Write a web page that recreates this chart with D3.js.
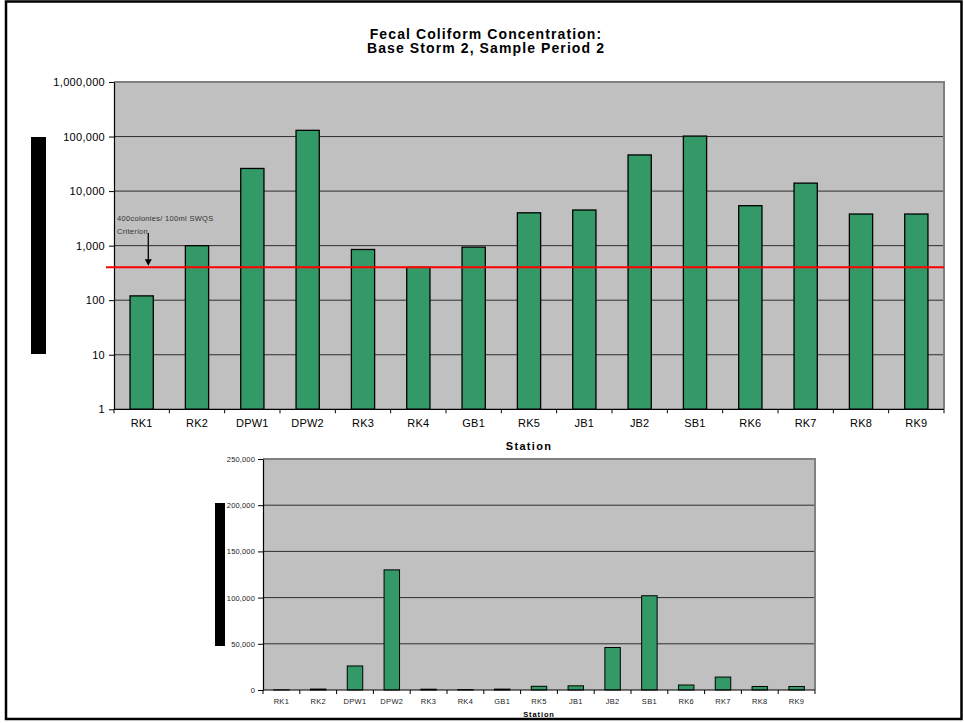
<!DOCTYPE html>
<html>
<head>
<meta charset="utf-8">
<script src="https://cdn.jsdelivr.net/npm/d3@7/dist/d3.min.js"></script>
<style>
  html, body { margin: 0; padding: 0; background: #fff; }
  svg { display: block; font-family: Arial, "Liberation Sans", sans-serif; }
</style>
</head>
<body>
<svg id="chart" width="964" height="723"></svg>
<script>
// Fecal coliform counts (colonies / 100 ml) by sampling station
const stations = ["RK1", "RK2", "DPW1", "DPW2", "RK3", "RK4", "GB1", "RK5", "JB1", "JB2", "SB1", "RK6", "RK7", "RK8", "RK9"];
const counts = [120, 1000, 26000, 130000, 850, 400, 940, 4000, 4500, 46000, 102000, 5400, 14000, 3800, 3800];
const criterion = 400;
const logTicks = [1, 10, 100, 1000, 10000, 100000, 1000000];
const linearTicks = [0, 50000, 100000, 150000, 200000, 250000];
const titleLines = ["Fecal Coliform Concentration:", "Base Storm 2, Sample Period 2"];
const xTitle = "Station";
const criterionNote = ["400colonies/ 100ml SWQS", "Criterion"];

const svg = d3.select("#chart");
const fmt = d3.format(",");

// page frame
svg.append("rect").attr("x", 6).attr("y", 1.5).attr("width", 955.5).attr("height", 717.5)
  .attr("fill", "none").attr("stroke", "#000").attr("stroke-width", 2.5);

// title
svg.append("g").selectAll("text").data(titleLines).join("text")
  .attr("x", 486).attr("y", (d, i) => 38.5 + i * 14.8)
  .attr("text-anchor", "middle").attr("font-size", 14).attr("font-weight", "bold")
  .attr("letter-spacing", 1.1).attr("fill", "#000").text(d => d);

function drawPanel(opt) {
  const g = svg.append("g");
  const [x0, x1] = opt.xRange;
  const x = d3.scaleBand().domain(stations).range([x0, x1]).paddingInner(0.58).paddingOuter(0.29);
  const y = opt.y;
  const [yBottom, yTop] = y.range();

  // plot background
  g.append("rect").attr("x", x0).attr("y", yTop).attr("width", x1 - x0).attr("height", yBottom - yTop)
    .attr("fill", "#c0c0c0");

  // horizontal gridlines
  g.append("g").selectAll("line").data(opt.ticks.filter(t => y(t) < yBottom - 1 && y(t) > yTop + 1)).join("line")
    .attr("x1", x0).attr("x2", x1).attr("y1", d => y(d)).attr("y2", d => y(d))
    .attr("stroke", "#2e2e2e").attr("stroke-width", 1);

  // top and right frame of plot area
  g.append("path").attr("d", `M${x0},${yTop}H${x1}V${yBottom}`)
    .attr("fill", "none").attr("stroke", "#808080").attr("stroke-width", 2);

  // bars
  g.append("g").selectAll("rect").data(stations).join("rect")
    .attr("x", d => x(d)).attr("width", x.bandwidth())
    .attr("y", (d, i) => y(counts[i])).attr("height", (d, i) => yBottom - y(counts[i]))
    .attr("fill", "#339966").attr("stroke", "#000").attr("stroke-width", opt.barStroke);

  // y axis
  const ya = g.append("g").attr("transform", `translate(${x0},0)`)
    .call(d3.axisLeft(y).tickValues(opt.ticks).tickFormat(fmt).tickSize(5).tickPadding(opt.tickPad).tickSizeOuter(0));
  ya.select(".domain").attr("stroke", "#000").attr("stroke-width", 1.2);
  ya.selectAll(".tick line").attr("stroke", "#000");
  ya.selectAll("text").attr("font-size", opt.yFont).attr("letter-spacing", opt.yLs)
    .attr("fill", opt.labelColor).attr("font-family", "Arial, 'Liberation Sans', sans-serif");

  // x axis line and category boundary ticks
  const step = x.step();
  g.append("line").attr("x1", x0).attr("x2", x1).attr("y1", yBottom).attr("y2", yBottom)
    .attr("stroke", "#000").attr("stroke-width", 1.2);
  g.append("g").selectAll("line").data(d3.range(stations.length + 1)).join("line")
    .attr("x1", i => x0 + i * step).attr("x2", i => x0 + i * step)
    .attr("y1", yBottom).attr("y2", yBottom + 4).attr("stroke", "#000");

  // category labels
  g.append("g").selectAll("text").data(stations).join("text")
    .attr("x", d => x(d) + x.bandwidth() / 2).attr("y", opt.xLabelY)
    .attr("text-anchor", "middle").attr("font-size", opt.xFont).attr("letter-spacing", opt.xLs)
    .attr("fill", opt.labelColor).text(d => d);

  // axis title
  g.append("text").attr("x", (x0 + x1) / 2).attr("y", opt.xTitleY)
    .attr("text-anchor", "middle").attr("font-size", opt.titleFont).attr("font-weight", "bold")
    .attr("letter-spacing", opt.titleLs).attr("fill", "#000").text(xTitle);

  // concealed axis title block
  g.append("rect").attr("x", opt.block[0]).attr("y", opt.block[1])
    .attr("width", opt.block[2]).attr("height", opt.block[3]).attr("fill", "#000");

  return { g, x, y };
}

// logarithmic panel
const logPanel = drawPanel({
  xRange: [114, 944],
  y: d3.scaleLog().domain([1, 1000000]).range([409.3, 82]),
  ticks: logTicks,
  barStroke: 1.3,
  tickPad: 4, yFont: 11, yLs: 0.3,
  xLabelY: 427, xFont: 11, xLs: 0.2,
  xTitleY: 450, titleFont: 11, titleLs: 1.3,
  labelColor: "#000",
  block: [31, 137, 15, 217]
});

// criterion line and note
const yc = logPanel.y(criterion);
svg.append("line").attr("x1", 106).attr("x2", 944).attr("y1", yc).attr("y2", yc)
  .attr("stroke", "#ff0000").attr("stroke-width", 2);
svg.append("g").selectAll("text").data(criterionNote).join("text")
  .attr("x", 117).attr("y", (d, i) => 220.5 + i * 13.3)
  .attr("font-size", 7.5).attr("letter-spacing", 0.3).attr("fill", "#333").text(d => d);
svg.append("line").attr("x1", 148.3).attr("x2", 148.3).attr("y1", 233).attr("y2", yc - 7)
  .attr("stroke", "#000").attr("stroke-width", 1.3);
svg.append("path").attr("d", `M144.8,${yc - 8}L151.8,${yc - 8}L148.3,${yc - 1.5}Z`).attr("fill", "#000");

// linear panel
drawPanel({
  xRange: [263, 815],
  y: d3.scaleLinear().domain([0, 250000]).range([690, 459]),
  ticks: linearTicks,
  barStroke: 1,
  tickPad: 3, yFont: 7.5, yLs: 0.15,
  xLabelY: 704, xFont: 7.5, xLs: 0.3,
  xTitleY: 717, titleFont: 7.5, titleLs: 0.9,
  labelColor: "#222",
  block: [215, 503, 10, 143]
});
</script>
</body>
</html>
